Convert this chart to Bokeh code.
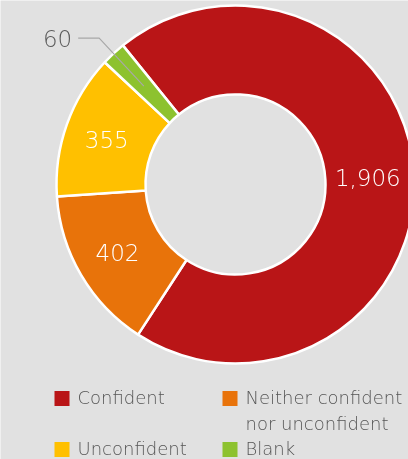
import math
from bokeh.plotting import figure
from bokeh.models import Range1d, ColumnDataSource
from bokeh.core.properties import value
from bokeh.embed import file_html
from bokeh.resources import INLINE

# ---- data ----
categories = ["Confident", "Neither confident\nnor unconfident", "Unconfident", "Blank"]
counts = [1906, 402, 355, 60]
count_labels = ["1,906", "402", "355", "60"]
colors = ["#B91517", "#E8730A", "#FFC000", "#8DC22F"]

# ---- style ----
W, H = 408, 459
BG = "#E1E1E1"
FONT = "DejaVu Sans ExtraLight, DejaVu Sans Light, DejaVu Sans"
CX, CY = 235, -184          # donut centre (y up)
R_IN, R_OUT = 90, 179
START_CW = -39.0            # degrees clockwise from 12 o'clock
OUTSIDE_MIN = 100           # slices smaller than this get an outside label

p = figure(width=W, height=H, x_range=Range1d(0, W), y_range=Range1d(-H, 0),
           output_backend="svg", toolbar_location=None, min_border=0)
p.axis.visible = False
p.grid.visible = False
p.outline_line_color = None
p.background_fill_color = BG
p.border_fill_color = BG
p.styles = {"position": "fixed", "top": "0px", "left": "0px"}

total = float(sum(counts))
starts, ends, mids = [], [], []
acc = 0.0
for v in counts:
    a0 = START_CW + 360.0 * acc / total
    a1 = START_CW + 360.0 * (acc + v) / total
    starts.append(math.radians(90 - a0))
    ends.append(math.radians(90 - a1))
    mids.append(math.radians(90 - (a0 + a1) / 2))
    acc += v

src = ColumnDataSource(dict(start=starts, end=ends, color=colors,
                            x=[CX] * len(counts), y=[CY] * len(counts)))
p.annular_wedge(x="x", y="y", inner_radius=R_IN, outer_radius=R_OUT,
                start_angle="start", end_angle="end", direction="clock",
                fill_color="color", line_color="white", line_width=2.5, source=src)

# value labels
r_mid = (R_IN + R_OUT) / 2
in_x, in_y, in_t = [], [], []
for v, lab, m in zip(counts, count_labels, mids):
    if v >= OUTSIDE_MIN:
        in_x.append(CX + r_mid * math.cos(m) - 2)
        in_y.append(CY + r_mid * math.sin(m))
        in_t.append(lab)
    else:
        x1, y1 = CX + r_mid * math.cos(m), CY + r_mid * math.sin(m)
        x2, y2 = CX + 200 * math.cos(m), CY + 200 * math.sin(m)
        x3, y3 = x2 - 21, y2
        p.line([x1, x2, x3], [y1, y2, y3], line_color="#A8A8A8", line_width=1.2)
        p.text(x=[x3 - 6], y=[y3], text=[lab], text_align="right", text_baseline="middle",
               text_color="#5A5A5A", text_font=value(FONT), text_font_size="23px")
p.text(x=in_x, y=in_y, text=in_t, text_align="center", text_baseline="middle",
       text_color="white", text_font=value(FONT), text_font_size="23px")

# legend (2 columns)
col_x = [61.5, 229.5]
row_y = [-398, -449]
lx, ly, tx, ty = [], [], [], []
for i in range(len(categories)):
    c, r = i % 2, i // 2
    lx.append(col_x[c]); ly.append(row_y[r])
    tx.append(col_x[c] + 15.5); ty.append(row_y[r] + 12)
p.rect(x=lx, y=ly, width=15, height=15, fill_color=colors, line_color=None)
p.text(x=tx, y=ty, text=categories, text_align="left", text_baseline="top",
       text_color="#555555", text_font=value(FONT), text_font_size="18px",
       text_line_height=1.28)

open("out.html", "w").write(file_html(p, INLINE))
